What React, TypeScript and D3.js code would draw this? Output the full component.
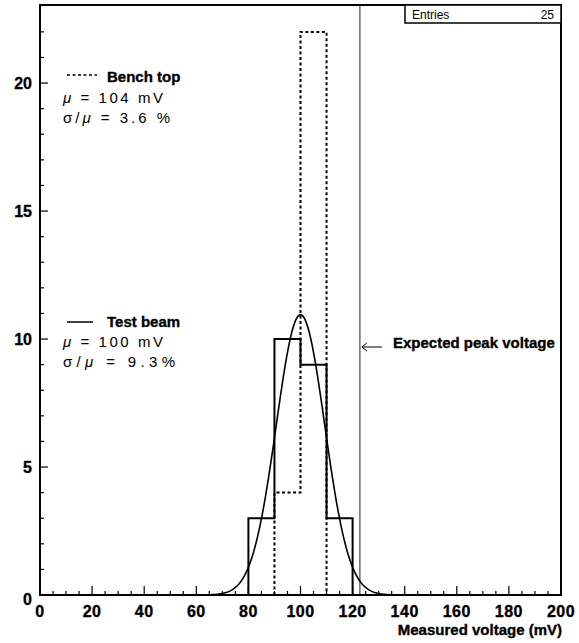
import React from "react";
import * as d3 from "d3";

const W = 579;
const H = 643;

// Test beam histogram (solid)
const testBeamEdges = [80, 90, 100, 110, 120];
const testBeamCounts = [3, 10, 9, 3];
// Bench top histogram (dashed)
const benchEdges = [90, 100, 110];
const benchCounts = [4, 22];
// Gaussian fit to test beam
const fitAmplitude = 10.95;
const fitMean = 100;
const fitSigma = 9.3;
const expectedPeak = 122.8;
const entries = 25;

const xTicksMajor = [0, 20, 40, 60, 80, 100, 120, 140, 160, 180, 200];
const yTicksMajor = [0, 5, 10, 15, 20];

const margin = { left: 40, right: 561, top: 5, bottom: 595 };

const BOLD = "'Liberation Sans', Arial, Helvetica, sans-serif";
const THIN = "'Liberation Sans', Arial, Helvetica, sans-serif";

export default function App() {
  const x = d3.scaleLinear().domain([0, 200]).range([margin.left, margin.right]);
  const y = d3.scaleLinear().domain([0, 23.05]).range([margin.bottom, margin.top]);

  const stepPath = (edges: number[], counts: number[]) => {
    let p = `M${x(edges[0])},${y(0)}`;
    counts.forEach((c, i) => {
      p += `V${y(c)}H${x(edges[i + 1])}`;
    });
    p += `V${y(0)}`;
    return p;
  };

  const xs = d3.range(40, 160.01, 0.25);
  const gauss = (v: number) =>
    fitAmplitude * Math.exp(-0.5 * ((v - fitMean) / fitSigma) ** 2);
  const line = d3
    .line<number>()
    .x((d) => x(d))
    .y((d) => y(gauss(d)));

  const xMinor = d3.range(0, 201, 5);
  const yMinor = d3.range(0, 23, 1);

  const ax = x(expectedPeak) + 2;
  const ay = 347;

  const heavy = { stroke: "#000", strokeWidth: 0.35 };

  return (
    <svg
      width={W}
      height={H}
      style={{ position: "absolute", left: 0, top: 0, background: "#fff" }}
    >
      <rect x={0} y={0} width={W} height={H} fill="#fff" />

      {/* expected peak vertical line */}
      <line
        x1={x(expectedPeak)}
        x2={x(expectedPeak)}
        y1={margin.top}
        y2={margin.bottom}
        stroke="#444"
        strokeWidth={1.2}
      />

      {/* bench top dashed histogram */}
      <path
        d={stepPath(benchEdges, benchCounts)}
        fill="none"
        stroke="#000"
        strokeWidth={2}
        strokeDasharray="3,2.5"
      />
      {/* test beam histogram */}
      <path
        d={stepPath(testBeamEdges, testBeamCounts)}
        fill="none"
        stroke="#000"
        strokeWidth={2}
      />
      {/* gaussian fit */}
      <path d={line(xs) || ""} fill="none" stroke="#000" strokeWidth={1.6} />

      {/* frame */}
      <rect
        x={margin.left}
        y={margin.top}
        width={margin.right - margin.left}
        height={margin.bottom - margin.top}
        fill="none"
        stroke="#000"
        strokeWidth={2}
      />

      {/* x ticks */}
      {xMinor.map((v) => (
        <line
          key={"xt" + v}
          x1={x(v)}
          x2={x(v)}
          y1={margin.bottom}
          y2={margin.bottom - (v % 20 === 0 ? 9 : 4)}
          stroke="#000"
          strokeWidth={1.2}
        />
      ))}
      {/* y ticks */}
      {yMinor.map((v) => (
        <line
          key={"yt" + v}
          x1={margin.left}
          x2={margin.left + (v % 5 === 0 ? 8 : 4)}
          y1={y(v)}
          y2={y(v)}
          stroke="#000"
          strokeWidth={1.2}
        />
      ))}

      {/* x tick labels */}
      {xTicksMajor.map((v) => (
        <text
          key={"xl" + v}
          x={x(v)}
          y={617}
          textAnchor="middle"
          fontSize={16}
          fontFamily={BOLD}
          fontWeight="bold"
          letterSpacing={0.5}
          {...heavy}
        >
          {v}
        </text>
      ))}
      {/* y tick labels */}
      {yTicksMajor.map((v) => (
        <text
          key={"yl" + v}
          x={32}
          y={v === 0 ? y(v) + 10 : y(v) + 6}
          textAnchor="end"
          fontSize={16}
          fontFamily={BOLD}
          fontWeight="bold"
          {...heavy}
        >
          {v}
        </text>
      ))}

      {/* x axis title */}
      <text x={562} y={635} textAnchor="end" fontSize={15} fontFamily={BOLD} fontWeight="bold" {...heavy}>
        Measured voltage (mV)
      </text>

      {/* Entries box */}
      <rect x={405} y={5} width={156} height={18} fill="#fff" stroke="#000" strokeWidth={1.5} />
      <text x={412} y={19} fontSize={12} fontFamily={THIN} fill="#000">
        Entries
      </text>
      <text x={554} y={19} fontSize={12} fontFamily={THIN} textAnchor="end" fill="#000">
        {entries}
      </text>

      {/* Bench top legend */}
      <line x1={67} x2={97} y1={75} y2={75} stroke="#000" strokeWidth={1.5} strokeDasharray="3,2.5" />
      <text x={107} y={82} fontSize={15} fontFamily={BOLD} fontWeight="bold" {...heavy}>
        Bench top
      </text>
      <text x={63} y={103} fontSize={15} fontFamily={THIN} textLength={100} lengthAdjust="spacing">
        <tspan fontStyle="italic">μ</tspan> = 104 mV
      </text>
      <text x={63} y={123} fontSize={15} fontFamily={THIN} textLength={107} lengthAdjust="spacing">
        σ/<tspan fontStyle="italic">μ</tspan> = 3.6 %
      </text>

      {/* Test beam legend */}
      <line x1={67} x2={93} y1={322} y2={322} stroke="#000" strokeWidth={1.5} />
      <text x={107} y={327} fontSize={15} fontFamily={BOLD} fontWeight="bold" {...heavy}>
        Test beam
      </text>
      <text x={63} y={347} fontSize={15} fontFamily={THIN} textLength={100} lengthAdjust="spacing">
        <tspan fontStyle="italic">μ</tspan> = 100 mV
      </text>
      <text x={63} y={367} fontSize={15} fontFamily={THIN} textLength={112} lengthAdjust="spacing">
        σ/<tspan fontStyle="italic">μ</tspan> =   9.3%
      </text>

      {/* Expected peak annotation: arrow */}
      <path
        d={`M${ax + 20},${ay}H${ax}M${ax + 5},${ay - 4}L${ax},${ay}L${ax + 5},${ay + 4}`}
        fill="none"
        stroke="#000"
        strokeWidth={1}
      />
      <text x={393} y={348} fontSize={15} fontFamily={BOLD} fontWeight="bold" {...heavy}>
        Expected peak voltage
      </text>
    </svg>
  );
}
